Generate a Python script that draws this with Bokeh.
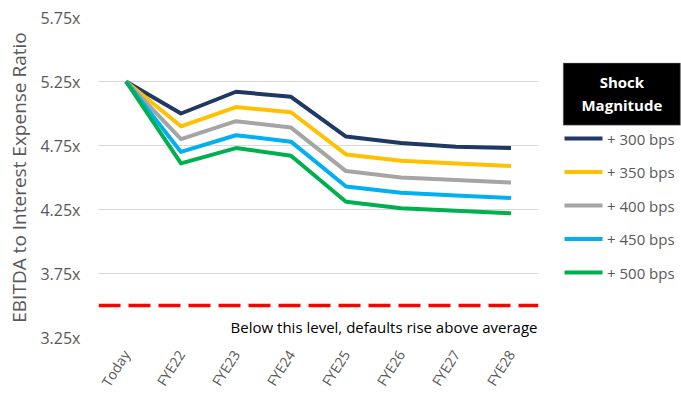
from bokeh.plotting import figure
from bokeh.layouts import row
from bokeh.models import (FactorRange, Range1d, Span, Label, FixedTicker,
                          CustomJSTickFormatter, BoxAnnotation, ColumnDataSource)
from bokeh.core.properties import value
from bokeh.embed import file_html
from bokeh.resources import INLINE

# Periods on the x axis
periods = ["Today", "FYE22", "FYE23", "FYE24", "FYE25", "FYE26", "FYE27", "FYE28"]

# EBITDA / interest expense under each rate shock
shock_300 = [5.25, 5.00, 5.17, 5.13, 4.82, 4.77, 4.74, 4.73]
shock_350 = [5.25, 4.90, 5.05, 5.01, 4.68, 4.63, 4.61, 4.59]
shock_400 = [5.25, 4.80, 4.94, 4.89, 4.55, 4.50, 4.48, 4.46]
shock_450 = [5.25, 4.70, 4.83, 4.78, 4.43, 4.38, 4.36, 4.34]
shock_500 = [5.25, 4.61, 4.73, 4.67, 4.31, 4.26, 4.24, 4.22]

series_labels = ["+ 300 bps", "+ 350 bps", "+ 400 bps", "+ 450 bps", "+ 500 bps"]
series_colors = ["#1f3864", "#ffc000", "#a5a5a5", "#00b0f0", "#00b050"]

# Default threshold level
threshold = 3.5
threshold_note = "Below this level, defaults rise above average"

y_ticks = [3.25, 3.75, 4.25, 4.75, 5.25, 5.75]

FONT = "Open Sans"
GREY_TEXT = "#595959"

TOP, BOTTOM = 17, 60   # borders shared by both panels of the row

# ---- main chart -------------------------------------------------------------
p = figure(width=545, height=398, x_range=FactorRange(*periods, range_padding=0),
           y_range=Range1d(3.25, 5.75), output_backend="svg", toolbar_location=None,
           min_border_left=98, min_border_right=7, min_border_top=TOP,
           min_border_bottom=BOTTOM)
p.outline_line_color = None
p.background_fill_color = "white"
p.border_fill_color = "white"

p.xgrid.grid_line_color = None
p.ygrid.grid_line_color = "#d9d9d9"
p.ygrid.grid_line_width = 1

p.yaxis.ticker = FixedTicker(ticks=y_ticks)
p.yaxis.formatter = CustomJSTickFormatter(code="return tick.toFixed(2) + 'x'")
p.yaxis.axis_line_color = None
p.yaxis.major_tick_line_color = None
p.yaxis.minor_tick_line_color = None
p.yaxis.major_label_standoff = 12
p.yaxis.major_label_text_font = FONT
p.yaxis.major_label_text_font_size = "16px"
p.yaxis.major_label_text_color = GREY_TEXT
p.yaxis.axis_label = "EBITDA to Interest Expense Ratio"
p.yaxis.axis_label_text_font = FONT
p.yaxis.axis_label_text_font_size = "19px"
p.yaxis.axis_label_text_font_style = "normal"
p.yaxis.axis_label_text_color = GREY_TEXT
p.yaxis.axis_label_standoff = 5

p.xaxis.axis_line_color = None
p.xaxis.major_tick_line_color = None
p.xaxis.minor_tick_line_color = None
p.xaxis.major_label_orientation = 1.01
p.xaxis.major_label_standoff = 8
p.xaxis.major_label_text_font = FONT
p.xaxis.major_label_text_font_size = "14px"
p.xaxis.major_label_text_color = GREY_TEXT

# Threshold line and note
p.add_layout(Span(location=threshold, dimension="width", line_color="#ff0000",
                  line_width=3.5, line_dash="22 8"))
p.add_layout(Label(x=439, y=10.5, x_units="screen", y_units="screen",
                   text=threshold_note, text_align="right", text_baseline="middle",
                   text_font=FONT, text_font_size="15px", text_color="#000000"))

# Scenario lines
all_series = [shock_300, shock_350, shock_400, shock_450, shock_500]
for vals, col in zip(all_series, series_colors):
    p.line(periods, vals, line_color=col, line_width=4, line_join="round")

# ---- legend panel (y measured downward in pixels, like the page) ------------
lg = figure(width=136, height=398, x_range=Range1d(0, 136),
            y_range=Range1d(398 - BOTTOM, TOP),
            output_backend="svg", toolbar_location=None,
            x_axis_location=None, y_axis_location=None,
            min_border_left=0, min_border_right=0, min_border_top=TOP,
            min_border_bottom=BOTTOM)
lg.outline_line_color = None
lg.grid.visible = False
lg.background_fill_color = "white"
lg.border_fill_color = "white"

# Header box
lg.add_layout(BoxAnnotation(left=17.7, right=135, top=62.7, bottom=125,
                            fill_color="black", fill_alpha=1,
                            line_color="#a0a0a0", line_width=1.5))
for txt, ypos in [("Shock", 82), ("Magnitude", 105)]:
    lg.add_layout(Label(x=76.4, y=ypos, text=txt, text_align="center",
                        text_baseline="middle", text_font=FONT,
                        text_font_size="15px", text_font_style="bold",
                        text_color="white"))

# Legend rows: swatch + label
row_y = [138.5 + 33.6 * i for i in range(len(series_labels))]
key = ColumnDataSource(dict(y=row_y, color=series_colors, label=series_labels))
lg.segment(x0=19, x1=57, y0="y", y1="y", line_color="color", line_width=4,
           source=key)
lg.text(x=61.5, y="y", text="label", text_baseline="middle",
        text_font=value(FONT), text_font_size="15px", text_color=GREY_TEXT,
        source=key)

layout = row(p, lg)
open("out.html", "w").write(file_html(layout, INLINE))
